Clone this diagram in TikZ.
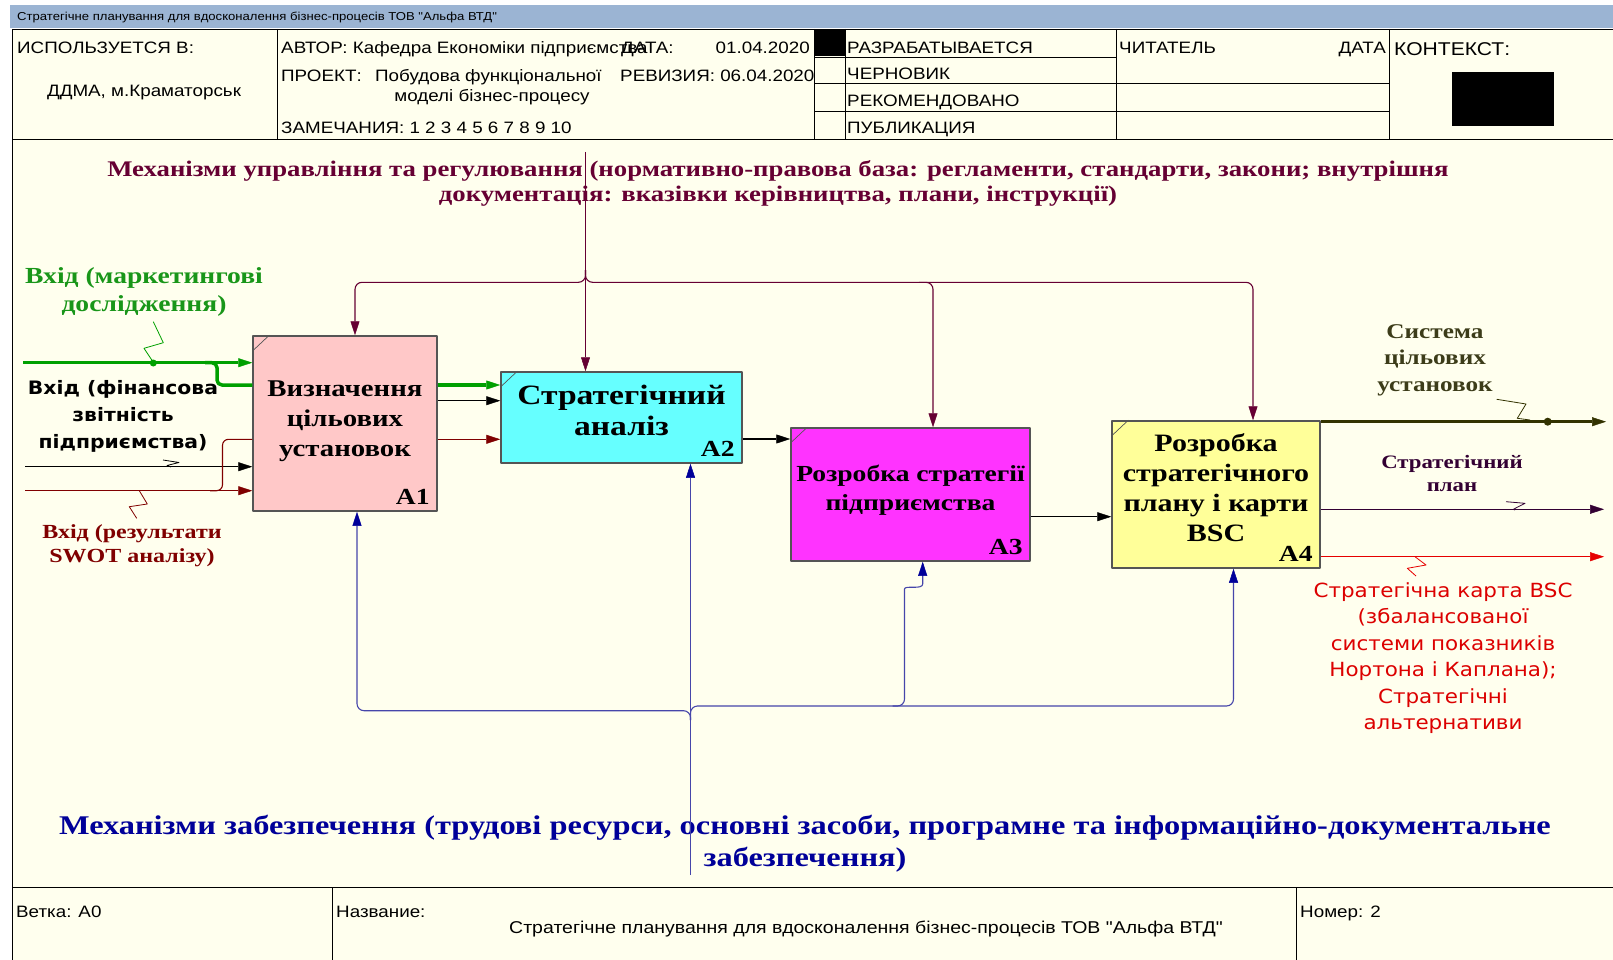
\documentclass[tikz,border=0pt]{standalone}
\usepackage{fontspec}
\usetikzlibrary{arrows.meta,positioning}
\newfontfamily\formfont{Liberation Sans}[FakeStretch=1.14]
\newfontfamily\boxfont{Liberation Serif}[FakeStretch=1.2]
\newfontfamily\notefont{DejaVu Sans}[FakeStretch=1.1]
\definecolor{paper}{RGB}{255,255,238}
\definecolor{titlebar}{RGB}{155,180,211}
\definecolor{boxedge}{RGB}{85,85,85}
\definecolor{pinkfill}{RGB}{255,200,200}
\definecolor{cyanfill}{RGB}{102,255,255}
\definecolor{magentafill}{RGB}{255,51,255}
\definecolor{yellowfill}{RGB}{255,255,153}
\definecolor{ctrlcol}{RGB}{102,0,51}
\definecolor{mechcol}{RGB}{0,0,153}
\definecolor{mechline}{RGB}{70,70,170}
\definecolor{greenin}{RGB}{0,160,0}
\definecolor{greentext}{RGB}{25,150,25}
\definecolor{maroonin}{RGB}{128,0,0}
\definecolor{olivecol}{RGB}{51,51,0}
\definecolor{olivetext}{RGB}{60,60,25}
\definecolor{plancol}{RGB}{51,0,51}
\definecolor{redout}{RGB}{230,0,0}
\definecolor{redtext}{RGB}{220,0,0}
\begin{document}
\begin{tikzpicture}[x=1pt,y=-1pt,line join=round,
  flow/.style={-{Triangle[length=14pt,width=9pt,line width=.5pt]}},
  thin/.style={line width=1.1pt},
  thick/.style={line width=3.5pt},
  activity/.style={draw=boxedge,line width=1.5pt,inner sep=0pt},
  acttitle/.style={align=center,inner sep=0pt,font=\boxfont\bfseries\fontsize{24}{30}\selectfont},
  actnum/.style={anchor=base east,inner sep=0pt,font=\boxfont\bfseries\fontsize{23}{23}\selectfont},
  formtext/.style={anchor=base west,inner sep=0pt,font=\formfont\fontsize{16.5}{19}\selectfont},
  formrule/.style={line width=.8pt},
  arrowlabel/.style={align=center,inner sep=0pt},
  ctrlflow/.style={ctrlcol,thin,rounded corners=7pt,
    -{Triangle[length=14pt,width=9pt,line width=.5pt]}},
  mechflow/.style={mechline,thin,rounded corners=7pt,
    -{Triangle[length=14pt,width=9pt,line width=.5pt,color=mechcol]}},
  squiggle/.style={line width=.8pt}]
  \useasboundingbox (0,0) rectangle (1613,960);
  \fill[white] (0,0) rectangle (1613,960);
  \fill[paper] (12,29) rectangle (1613,960);
  \fill[titlebar] (10,5) rectangle (1613,28);
  \node[formtext,font=\formfont\fontsize{11.5}{13}\selectfont] (bartitle) at (17,20.5)
    {Стратегічне планування для вдосконалення бізнес-процесів ТОВ "Альфа ВТД"};

  % form header
  \draw[formrule] (12,29) -- (1613,29) (12,139) -- (1613,139) (12,29) -- (12,960);
  \foreach \x in {277,814,845,1116,1389}
    \draw[formrule] (\x,29) -- (\x,139);
  \draw[formrule] (814,57) -- (1116,57);
  \foreach \y in {83,111}
    \draw[formrule] (814,\y) -- (1389,\y);
  \fill (814,29) rectangle (845,56);
  \fill (1452,72) rectangle (1554,126);
  \node[formtext] (usedin) at (17,54) {ИСПОЛЬЗУЕТСЯ В:};
  \node[formtext,anchor=base] (usedby) at (144,97) {ДДМА, м.Краматорськ};
  \node[formtext] (author) at (281,54) {АВТОР: Кафедра Економіки підприємства};
  \node[formtext] (datekey) at (621,54) {ДАТА:};
  \node[formtext,anchor=base east] (dateval) at (810,54) {01.04.2020};
  \node[formtext] (project) at (281,81.5) {ПРОЕКТ:};
  \node[formtext] (projname) at (375,81.5) {Побудова функціональної};
  \node[formtext,anchor=base] (projname2) at (492,102) {моделі бізнес-процесу};
  \node[formtext] (revision) at (620,81.5) {РЕВИЗИЯ: 06.04.2020};
  \node[formtext] (notes) at (281,134) {ЗАМЕЧАНИЯ: 1 2 3 4 5 6 7 8 9 10};
  \foreach \txt/\yy [count=\i] in {РАЗРАБАТЫВАЕТСЯ/53.5,ЧЕРНОВИК/80,РЕКОМЕНДОВАНО/106.5,ПУБЛИКАЦИЯ/133.5}
    \node[formtext] (status\i) at (847,\yy) {\txt};
  \node[formtext] (reader) at (1119,53.5) {ЧИТАТЕЛЬ};
  \node[formtext,anchor=base east] (readerdate) at (1386,53.5) {ДАТА};
  \node[formtext,font=\formfont\fontsize{18.5}{21}\selectfont] (context) at (1394,56) {КОНТЕКСТ:};

  % form footer
  \draw[formrule] (12,887) -- (1613,887) (332,887) -- (332,960) (1296,887) -- (1296,960);
  \node[formtext] (branch) at (16,917) {Ветка: A0};
  \node[formtext] (namekey) at (336,917) {Название:};
  \node[formtext,anchor=base,font=\formfont\fontsize{17.1}{19}\selectfont] (diagname) at (866,933)
    {Стратегічне планування для вдосконалення бізнес-процесів ТОВ "Альфа ВТД"};
  \node[formtext] (pageno) at (1300,917) {Номер: 2};

  % activities
  \node[activity,fill=pinkfill,minimum width=184pt,minimum height=175pt] (a1) at (345,423.5) {};
  \node[activity,fill=cyanfill,minimum width=241pt,minimum height=91pt] (a2) at (621.5,417.5) {};
  \node[activity,fill=magentafill,minimum width=239pt,minimum height=133pt] (a3) at (910.5,494.5) {};
  \node[activity,fill=yellowfill,minimum width=208pt,minimum height=147pt] (a4) at (1216,494.5) {};
  \node[acttitle] (a1title) at ([yshift=2.5pt]a1.center) {Визначення\\цільових\\установок};
  \node[acttitle,font=\boxfont\bfseries\fontsize{28}{31}\selectfont] (a2title) at ([yshift=7pt]a2.center) {Стратегічний\\аналіз};
  \node[acttitle,font=\boxfont\bfseries\fontsize{23}{29}\selectfont] (a3title) at ([yshift=4pt]a3.center) {Розробка стратегії\\підприємства};
  \node[acttitle,font=\boxfont\bfseries\fontsize{25}{30}\selectfont] (a4title) at ([yshift=7pt]a4.center) {Розробка\\стратегічного\\плану і карти\\BSC};
  \foreach \act/\num in {a1/A1,a2/A2,a3/A3,a4/A4} {
    \node[actnum] (\act num) at ([shift={(-8pt,7pt)}]\act.south east) {\num};
    \draw[boxedge,line width=.7pt] ([yshift=-16pt]\act.north west) -- ([xshift=17pt]\act.north west);
  }

  % inputs
  \coordinate (mktin) at (23,362.7);
  \coordinate (mktsplit) at (205,362.7);
  \coordinate (mktpass) at (230,385);
  \coordinate (finin) at (25,466.7);
  \coordinate (draftpass) at (470,400.7);
  \coordinate (swotin) at (25,490.7);
  \coordinate (swotsplit) at (210,490.7);
  \coordinate (swotpass) at (230,439.3);
  \draw[greenin,thick,flow] (mktin) -- (a1.west |- mktin);
  \draw[greenin,thick,rounded corners=5pt] (mktsplit) -- ++(12,0) -- ++(0,22.3) -- (a1.west |- mktpass);
  \draw[thin,flow] (finin) -- (a1.west |- finin);
  \draw[maroonin,thin,flow] (swotin) -- (a1.west |- swotin);
  \draw[maroonin,thin,rounded corners=6pt] (swotsplit) -- ++(12.5,0) -- ++(0,-51.4) -- (a1.west |- swotpass);
  \draw[greenin,thick,flow] (a1.east |- mktpass) -- (a2.west |- mktpass);
  \draw[thin,flow] (a1.east |- draftpass) -- (a2.west |- draftpass);
  \draw[maroonin,thin,flow] (a1.east |- swotpass) -- (a2.west |- swotpass);

  \node[arrowlabel,greentext,font=\boxfont\bfseries\fontsize{23}{28}\selectfont] (mktlabel) at (144,292)
    {Вхід (маркетингові\\дослідження)};
  \draw[greenin,squiggle] (153.3,321.7) -- (163.3,342.7) -- (144,348.3) -- (154,363.3);
  \fill[greenin] (153.3,363) circle (3.5pt);
  \node[arrowlabel,font=\notefont\bfseries\fontsize{18.5}{27}\selectfont] (finlabel) at (123,416)
    {Вхід (фінансова\\звітність\\підприємства)};
  \draw[squiggle] (163,460) -- (179,462.5) -- (167,465.5) -- (171,467);
  \node[arrowlabel,maroonin,font=\boxfont\bfseries\fontsize{20}{24}\selectfont] (swotlabel) at (132,546)
    {Вхід (результати\\SWOT аналізу)};
  \draw[maroonin,squiggle] (139.3,490.7) -- (147.3,504) -- (129.3,506.7) -- (136.7,518.3);

  % between activities
  \coordinate (analysis) at (760,439);
  \coordinate (strategy) at (1070,516.7);
  \draw[thin,flow] (a2.east |- analysis) -- (a3.west |- analysis);
  \draw[thin,flow] (a3.east |- strategy) -- (a4.west |- strategy);

  % outputs
  \coordinate (goalsout) at (1606,421.7);
  \coordinate (planout) at (1604,509.3);
  \coordinate (bscout) at (1604,556.7);
  \draw[olivecol,thick,flow] (a4.east |- goalsout) -- (goalsout);
  \fill[olivecol] (1547.7,421.7) circle (4pt);
  \draw[plancol,thin,flow] (a4.east |- planout) -- (planout);
  \draw[redout,thin,flow] (a4.east |- bscout) -- (bscout);
  \node[arrowlabel,olivetext,font=\boxfont\bfseries\fontsize{21}{26.5}\selectfont] (goalslabel) at (1435,360)
    {Система\\цільових\\установок};
  \draw[olivecol,squiggle] (1496.7,399.3) -- (1526,404) -- (1517.3,418.3) -- (1530,420);
  \node[arrowlabel,plancol,font=\boxfont\bfseries\fontsize{19}{23}\selectfont] (planlabel) at (1452,473)
    {Стратегічний\\план};
  \draw[plancol,squiggle] (1506,501.7) -- (1525,503.3) -- (1513.3,509.3) -- (1515,510);
  \node[arrowlabel,redtext,font=\notefont\fontsize{19.5}{26.5}\selectfont] (bsclabel) at (1443,658)
    {Стратегічна карта BSC\\(збалансованої\\системи показників\\Нортона і Каплана);\\Стратегічні\\альтернативи};
  \draw[redout,squiggle] (1415,556.7) -- (1426,565) -- (1407.3,568.3) -- (1416,576);

  % controls
  \node[arrowlabel,ctrlcol,font=\boxfont\bfseries\fontsize{22.3}{25}\selectfont] (ctrllabel) at (778,183)
    {Механізми управління та регулювання (нормативно-правова база: регламенти, стандарти, закони; внутрішня\\
     документація: вказівки керівництва, плани, інструкції)};
  \coordinate (ctop) at (585.5,152);
  \coordinate (cfork) at (585.5,270);
  \coordinate (cbusl) at (355,282.3);
  \coordinate (cbusm) at (933,282.3);
  \coordinate (cbusr) at (1253,282.3);
  \draw[ctrlflow] (ctop) -- (ctop |- a2.north);
  \draw[ctrlflow] (cfork) -- (cfork |- cbusl) -- (cbusl) -- (cbusl |- a1.north);
  \draw[ctrlflow] (cfork) -- (cfork |- cbusr) -- (cbusr) -- (cbusr |- a4.north);
  \draw[ctrlflow] ([xshift=-14pt]cbusm) -- (cbusm) -- (cbusm |- a3.north);

  % mechanisms
  \node[arrowlabel,mechcol,font=\boxfont\bfseries\fontsize{27}{32}\selectfont] (mechlabel) at (805,844)
    {Механізми забезпечення (трудові ресурси, основні засоби, програмне та інформаційно-документальне\\
     забезпечення)};
  \coordinate (mbot) at (690.5,875);
  \coordinate (mfork) at (690.5,720);
  \coordinate (mbusl) at (357,710.7);
  \coordinate (mbusm) at (904.5,706);
  \coordinate (mbusr) at (1233.5,706);
  \coordinate (mjog) at (922.7,577);
  \draw[mechflow] (mbot) -- (mbot |- a2.south);
  \draw[mechflow] (mfork) -- (mfork |- mbusl) -- (mbusl) -- (mbusl |- a1.south);
  \draw[mechflow] (mfork) -- (mfork |- mbusr) -- (mbusr) -- (mbusr |- a4.south);
  \draw[mechflow] ([xshift=-12pt]mbusm) -- (mbusm) -- (904.5,596)
    .. controls (904.5,585) and (922.7,590) .. (mjog) -- (mjog |- a3.south);
\end{tikzpicture}
\end{document}
